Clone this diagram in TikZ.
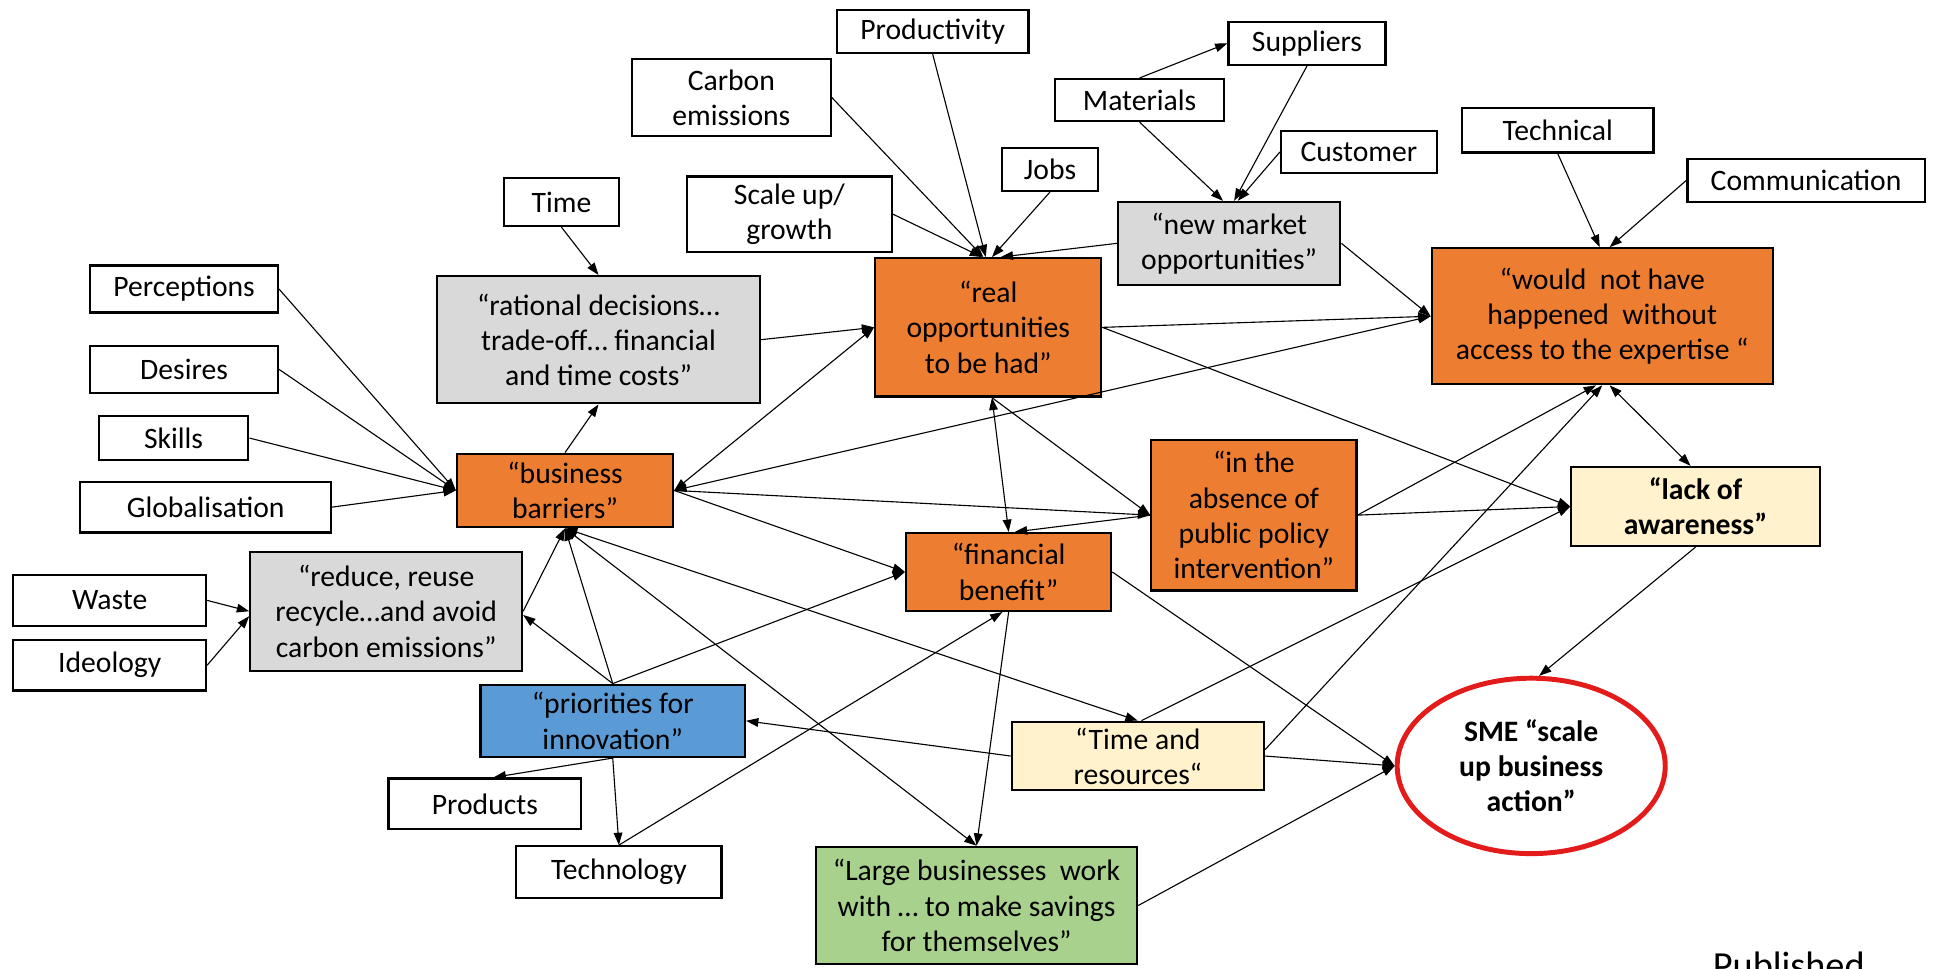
\documentclass[tikz,border=0pt]{standalone}
\usepackage{fontspec}
\setmainfont{Carlito}
\usetikzlibrary{arrows.meta,calc,shapes.geometric}
\definecolor{orng}{HTML}{ED7D31}
\definecolor{gry}{HTML}{D9D9D9}
\definecolor{blu}{HTML}{5B9BD5}
\definecolor{grn}{HTML}{A9D18E}
\definecolor{ylw}{HTML}{FFF2CC}
\definecolor{smered}{HTML}{E31B1B}
\begin{document}
\begin{tikzpicture}[x=1pt,y=-1pt,
  box/.style={draw=black, line width=1.8pt, inner sep=0pt, align=center,
    font=\fontsize{24}{28.5}\selectfont, text=black},
  sz/.style 2 args={minimum width=#1pt, minimum height=#2pt},
  lbl/.style={box, fill=white},
  orbox/.style={box, fill=orng},
  gybox/.style={box, fill=gry},
  blbox/.style={box, fill=blu},
  gnbox/.style={box, fill=grn},
  ywbox/.style={box, fill=ylw},
  arr/.style={line width=0.9pt, -{Triangle[length=10pt,width=7pt]}},
  darr/.style={line width=0.9pt, {Triangle[length=10pt,width=7pt]}-{Triangle[length=10pt,width=7pt]}},
]
\useasboundingbox (0,0) rectangle (1568,784);
\fill[white] (0,0) rectangle (1568,784);

% small label boxes
\node[lbl, sz={155}{35}] (prod) at (755,25.5) {Productivity};
\node[lbl, sz={127}{35}] (supp) at (1058,35) {Suppliers};
\node[lbl, sz={161}{62}] (carb) at (592,79) {Carbon\\emissions};
\node[lbl, sz={137}{34}] (mat) at (922.5,81) {Materials};
\node[lbl, sz={126}{34}] (cust) at (1100,123) {Customer};
\node[lbl, sz={155}{36}] (tech) at (1261,105.5) {Technical};
\node[lbl, sz={192}{35}] (comm) at (1462,146) {Communication};
\node[lbl, sz={78}{35}] (jobs) at (850,137) {Jobs};
\node[lbl, sz={93}{39}] (time) at (454.5,163.5) {Time};
\node[lbl, sz={166}{61}] (scale) at (639,173.4) {Scale up/\\growth};
\node[lbl, sz={152}{38}] (perc) at (149,234) {Perceptions};
\node[lbl, sz={152}{38}] (des) at (149,299) {Desires};
\node[lbl, sz={121}{36}] (skills) at (140.5,354.6) {Skills};
\node[lbl, sz={203}{41}] (glob) at (166.5,410.5) {Globalisation};
\node[lbl, sz={156}{41}] (waste) at (88.8,486) {Waste};
\node[lbl, sz={156}{41}] (ideo) at (88.8,538.5) {Ideology};
\node[lbl, sz={156}{41}] (prods) at (392.5,650.7) {Products};
\node[lbl, sz={166}{42}] (techn) at (501,706) {Technology};

% main boxes
\node[gybox, sz={180}{67}] (nmo) at (995,197) {“new market\\opportunities”};
\node[orbox, sz={183}{112}] (ro) at (800,265) {“real\\opportunities\\to be had”};
\node[orbox, sz={276}{110}] (wnh) at (1297,256) {“would\ \ not have\\happened\ \ without\\access to the expertise “};
\node[gybox, sz={261}{103}] (rat) at (484.5,275) {“rational decisions…\\trade-off… financial\\and time costs”};
\node[orbox, sz={175}{59.5}] (bb) at (457.4,397) {“business\\barriers”};
\node[orbox, sz={166}{122}] (abs) at (1015,417) {“in the\\absence of\\public policy\\intervention”};
\node[ywbox, sz={201}{64}, font=\fontsize{24}{28.5}\selectfont\bfseries] (la) at (1372.5,410) {“lack of\\awareness”};
\node[orbox, sz={166}{63}] (fb) at (816.5,463) {“financial\\benefit”};
\node[gybox, sz={220}{96.5}] (rr) at (312.6,494.8) {“reduce, reuse\\recycle…and avoid\\carbon emissions”};
\node[blbox, sz={214}{58.5}] (pi) at (496,583.5) {“priorities for\\innovation”};
\node[ywbox, sz={204}{55.5}] (tr) at (921,612) {“Time and\\resources“};
\node[gnbox, sz={260}{95}] (lb) at (790.5,733) {“Large businesses\ \ work\\with … to make savings\\for themselves”};
\node[ellipse, draw=smered, line width=4pt, fill=white, inner sep=0pt, sz={217}{142},
  align=center, font=\fontsize{24}{28.5}\selectfont\bfseries] (sme) at (1239.5,620) {SME “scale\\up business\\action”};
\node[anchor=north, inner sep=0pt, font=\fontsize{31}{37}\selectfont] (pub) at (1448,770) {Published};

% connectors into "real opportunities"
\draw[arr] (carb.east) -- ($(ro.north)+(-4,0)$);
\draw[arr] (prod.south) -- ($(ro.north)+(-2,0)$);
\draw[arr] (jobs.south) -- ($(ro.north)+(3,0)$);
\draw[arr] (scale.east) -- ($(ro.north)+(-5,0)$);
\draw[arr] (nmo.west) -- ($(ro.north)+(10,0)$);
\draw[arr] (rat.east) -- (ro.west);
\draw[darr] (bb.east) -- (ro.west);
% into "would not have happened"
\draw[darr] (bb.east) -- (wnh.west);
\draw[arr] (ro.east) -- (wnh.west);
\draw[arr] (nmo.east) -- (wnh.west);
\draw[arr] (tech.south) -- ($(wnh.north)+(-2,0)$);
\draw[arr] (comm.west) -- ($(wnh.north)+(6,0)$);
\draw[arr] (abs.east) -- ($(wnh.south)+(-5,0)$);
\draw[arr] ($(tr.east)+(0,-5)$) -- (wnh.south);
\draw[darr] ($(wnh.south)+(6,0)$) -- ($(la.north)+(-4,0)$);
% lack of awareness
\draw[arr] (ro.east) -- (la.west);
\draw[arr] (abs.east) -- (la.west);
\draw[arr] ($(tr.north)+(3,0)$) -- (la.west);
\draw[arr] (la.south) -- (sme.85);
% financial benefit / absence
\draw[darr] ($(ro.south)+(3,0)$) -- (fb.north);
\draw[arr] ($(ro.south)+(3,0)$) -- (abs.west);
\draw[arr] (bb.east) -- (abs.west);
\draw[arr] (abs.west) -- ($(fb.north)+(5,0)$);
\draw[arr] (bb.east) -- (fb.west);
\draw[arr] (pi.north) -- (fb.west);
\draw[arr] (techn.north) -- ($(fb.south)+(-5,0)$);
\draw[arr] (fb.south) -- (lb.north);
\draw[darr] (bb.south) -- (lb.north);
\draw[darr] (bb.south) -- (tr.north);
% SME
\draw[arr] (fb.east) -- (sme.west);
\draw[arr] (tr.east) -- (sme.west);
\draw[arr] (lb.east) -- (sme.west);
% time and resources -> priorities
\draw[arr] (tr.west) -- (pi.east);
% rational decisions
\draw[arr] (time.south) -- (rat.north);
\draw[arr] (bb.north) -- (rat.south);
% business barriers inputs
\draw[arr] (perc.east) -- (bb.west);
\draw[arr] (des.east) -- (bb.west);
\draw[arr] (skills.east) -- (bb.west);
\draw[arr] (glob.east) -- (bb.west);
\draw[arr] (rr.east) -- (bb.south);
\draw[arr] (pi.north) -- (bb.south);
% reduce reuse
\draw[arr] (waste.east) -- (rr.west);
\draw[arr] (ideo.east) -- ($(rr.west)+(0,4)$);
\draw[arr] (pi.north) -- ($(rr.east)+(0,3)$);
% priorities outputs
\draw[arr] (pi.south) -- ($(prods.north)+(7,0)$);
\draw[arr] (pi.south) -- (techn.north);
% market
\draw[arr] (mat.north) -- (supp.west);
\draw[arr] (mat.south) -- ($(nmo.north)+(-5,0)$);
\draw[arr] (supp.south) -- ($(nmo.north)+(4,0)$);
\draw[arr] (cust.west) -- ($(nmo.north)+(7,0)$);
\end{tikzpicture}
\end{document}
